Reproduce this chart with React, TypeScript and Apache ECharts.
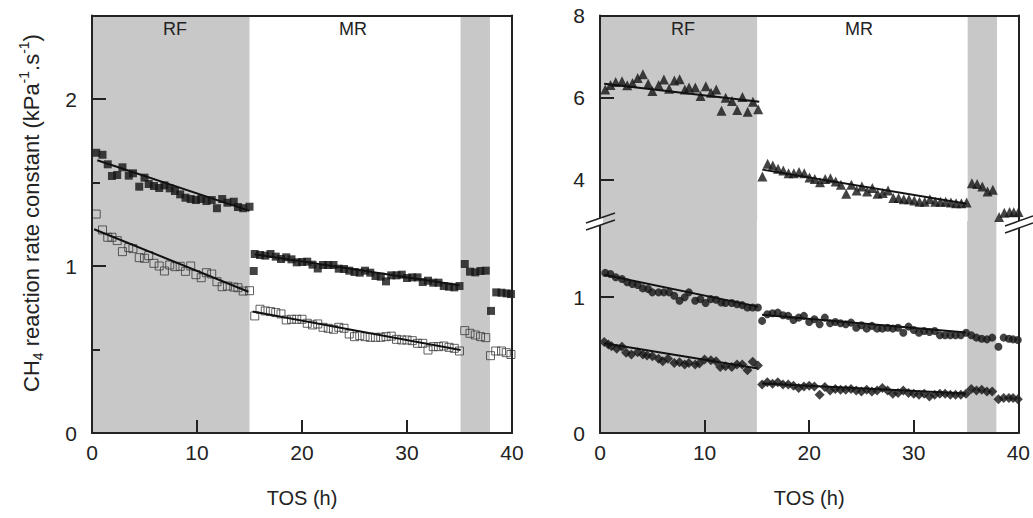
import React, { useEffect, useRef } from "react";
import * as echarts from "echarts";

// ---------- data ----------
const xTickLabels = ["0", "10", "20", "30", "40"];

const rfXLeft = [0.4, 1.0, 1.5, 1.9, 2.4, 2.9, 3.5, 3.9, 4.5, 5.0, 5.4, 5.9, 6.4, 6.9, 7.4, 7.9, 8.4, 8.9, 9.4, 9.9, 10.4, 10.9, 11.4, 11.9, 12.4, 12.9, 13.5, 13.9, 14.4, 15.0];
const rfXRight = [0.5, 1.0, 1.5, 2.1, 2.6, 3.1, 3.6, 4.1, 4.6, 5.0, 5.6, 6.1, 6.6, 7.1, 7.6, 8.1, 8.5, 9.1, 9.6, 10.1, 10.6, 11.1, 11.6, 12.0, 12.6, 13.1, 13.6, 14.1, 14.6, 15.1];
const rfXDiamond = [0.4, 0.8, 1.1, 1.6, 2.1, 2.5, 3.0, 3.6, 4.1, 4.5, 5.0, 5.6, 6.0, 6.5, 7.1, 7.6, 8.1, 8.5, 9.1, 9.5, 10.0, 10.6, 11.1, 11.5, 12.0, 12.6, 13.1, 13.6, 14.1, 14.6, 15.1];
const mrX = [15.5, 16.0, 16.5, 17.0, 17.5, 18.0, 18.5, 19.0, 19.5, 20.0, 20.5, 21.0, 21.5, 22.0, 22.5, 23.0, 23.5, 24.0, 24.5, 25.0, 25.5, 26.0, 26.5, 27.0, 27.5, 28.0, 28.5, 29.0, 29.5, 30.0, 30.5, 31.0, 31.5, 32.0, 32.5, 33.0, 33.5, 34.0, 34.5, 35.0];
const band2X = [35.5, 36.0, 36.5, 37.0, 37.5];
const postX = [38.0, 38.5, 39.0, 39.5, 39.9];
const postXOpen = [37.95, 38.45, 39.0, 39.45, 39.9];
const postXRight = [38.1, 38.6, 39.1, 39.5, 39.95];

// shaded periods (RF)
const bandRanges = [[0, 15], [35.1, 37.9]];

// left panel - filled squares
const lFilledRF = [1.678, 1.666, 1.609, 1.539, 1.545, 1.591, 1.541, 1.555, 1.475, 1.529, 1.491, 1.479, 1.467, 1.483, 1.465, 1.449, 1.429, 1.409, 1.401, 1.395, 1.401, 1.389, 1.395, 1.346, 1.401, 1.379, 1.385, 1.353, 1.346, 1.355];
const lFilledSwitchX = [15.4];
const lFilledSwitch = [0.97];
const lFilledMR = [1.072, 1.066, 1.062, 1.072, 1.056, 1.042, 1.052, 1.040, 1.022, 1.024, 1.026, 1.008, 0.985, 1.006, 1.006, 1.006, 0.984, 0.982, 0.972, 0.964, 0.960, 0.972, 0.960, 0.940, 0.936, 0.908, 0.944, 0.944, 0.948, 0.928, 0.932, 0.932, 0.904, 0.912, 0.900, 0.900, 0.880, 0.876, 0.872, 0.880];
const lFilledBand2 = [1.012, 0.966, 0.962, 0.970, 0.972];
const lFilledPost = [0.731, 0.842, 0.840, 0.836, 0.832];

// left panel - open squares
const lOpenRF = [1.311, 1.216, 1.172, 1.172, 1.152, 1.086, 1.110, 1.104, 1.050, 1.046, 1.062, 1.016, 1.000, 0.970, 1.006, 0.996, 0.998, 0.968, 1.000, 0.948, 0.930, 0.960, 0.952, 0.906, 0.876, 0.880, 0.874, 0.870, 0.850, 0.852];
const lOpenMR = [0.701, 0.741, 0.731, 0.727, 0.721, 0.713, 0.677, 0.681, 0.681, 0.681, 0.657, 0.647, 0.653, 0.633, 0.627, 0.621, 0.633, 0.627, 0.593, 0.577, 0.583, 0.577, 0.573, 0.573, 0.573, 0.577, 0.580, 0.561, 0.557, 0.557, 0.553, 0.537, 0.537, 0.497, 0.517, 0.517, 0.521, 0.513, 0.507, 0.491];
const lOpenBand2 = [0.613, 0.597, 0.587, 0.577, 0.571];
const lOpenPost = [0.463, 0.491, 0.491, 0.481, 0.470];

// right panel - triangles (upper segment)
const rTriRF = [6.20, 6.31, 6.38, 6.40, 6.30, 6.36, 6.48, 6.57, 6.34, 6.16, 6.31, 6.44, 6.22, 6.42, 6.45, 6.20, 6.25, 6.25, 6.04, 6.28, 6.12, 6.20, 5.68, 6.00, 5.92, 5.70, 6.02, 5.66, 5.90, 5.72];
const rTriMR = [4.08, 4.39, 4.35, 4.27, 4.23, 4.16, 4.16, 4.19, 4.16, 4.06, 4.02, 3.94, 4.02, 4.04, 3.96, 3.88, 3.66, 3.88, 3.74, 3.84, 3.72, 3.80, 3.66, 3.68, 3.74, 3.56, 3.56, 3.53, 3.53, 3.50, 3.47, 3.47, 3.53, 3.47, 3.47, 3.47, 3.45, 3.43, 3.43, 3.45];
const rTriBand2 = [3.92, 3.90, 3.84, 3.72, 3.76];
const rTriPost = [3.10, 3.20, 3.22, 3.21, 3.22];

// right panel - circles
const rCirRF = [1.178, 1.170, 1.146, 1.133, 1.109, 1.096, 1.089, 1.064, 1.059, 1.035, 1.035, 1.035, 1.035, 1.010, 0.973, 0.998, 1.035, 0.973, 0.985, 0.956, 0.985, 0.980, 0.960, 0.956, 0.956, 0.948, 0.941, 0.923, 0.923, 0.923];
const rCirMR = [0.825, 0.874, 0.881, 0.886, 0.867, 0.862, 0.832, 0.849, 0.862, 0.817, 0.837, 0.800, 0.849, 0.807, 0.817, 0.807, 0.800, 0.812, 0.775, 0.793, 0.768, 0.788, 0.768, 0.768, 0.775, 0.768, 0.775, 0.738, 0.783, 0.758, 0.738, 0.751, 0.743, 0.751, 0.719, 0.719, 0.719, 0.719, 0.719, 0.738];
const rCirBand2 = [0.719, 0.702, 0.694, 0.689, 0.702];
const rCirPost = [0.635, 0.702, 0.694, 0.689, 0.684];

// right panel - diamonds
const rDiaRF = [0.669, 0.652, 0.639, 0.620, 0.635, 0.590, 0.578, 0.595, 0.578, 0.570, 0.565, 0.546, 0.528, 0.546, 0.516, 0.521, 0.504, 0.516, 0.504, 0.511, 0.541, 0.536, 0.528, 0.486, 0.491, 0.486, 0.504, 0.504, 0.462, 0.524, 0.496];
const rDiaMR = [0.356, 0.373, 0.363, 0.373, 0.356, 0.356, 0.348, 0.331, 0.343, 0.348, 0.343, 0.281, 0.338, 0.313, 0.323, 0.319, 0.319, 0.323, 0.313, 0.306, 0.319, 0.306, 0.313, 0.331, 0.313, 0.289, 0.294, 0.313, 0.294, 0.289, 0.281, 0.289, 0.269, 0.281, 0.289, 0.289, 0.281, 0.281, 0.281, 0.289];
const rDiaBand2 = [0.323, 0.313, 0.319, 0.306, 0.306];
const rDiaPost = [0.249, 0.257, 0.257, 0.257, 0.249];

// fitted trend lines [[x0, y0], [x1, y1]]
const fitLFilledRF = [[0.5, 1.633], [15.0, 1.33]];
const fitLOpenRF = [[0.2, 1.22], [14.9, 0.846]];
const fitLFilledMR = [[15.5, 1.07], [35.0, 0.885]];
const fitLOpenMR = [[15.3, 0.727], [35.1, 0.497]];
const fitRTriRF = [[0.4, 6.34], [15.2, 5.9]];
const fitRTriMR = [[15.5, 4.25], [35.0, 3.42]];
const fitRCirRF = [[0.4, 1.165], [15.1, 0.93]];
const fitRCirMR = [[15.5, 0.87], [35.0, 0.74]];
const fitRDiaRF = [[0.4, 0.66], [15.1, 0.475]];
const fitRDiaMR = [[15.5, 0.365], [35.0, 0.29]];

// ---------- helpers ----------
const zip = (xs: number[], ys: number[]) => xs.map((x, i) => [x, ys[i]]);
const FONT = "'Liberation Sans', Arial, Helvetica, sans-serif";
const INK = "#222222";
const GRAY = "#c8c8c8";

export default function App() {
  const ref = useRef<HTMLDivElement>(null);

  useEffect(() => {
    document.body.style.margin = "0";
    if (!ref.current) return;
    const chart = echarts.init(ref.current, undefined, { renderer: "svg" });

    const axisLine = { show: true, onZero: false, lineStyle: { color: INK, width: 2 } };
    const noTick = { show: false };
    const noLabel = { show: false };
    const xTicks = { show: true, inside: true, length: 13, lineStyle: { color: INK, width: 2 } };
    const xLabel = {
      fontSize: 21, color: INK, fontFamily: FONT, margin: 9,
      formatter: (v: number) => xTickLabels[Math.round(v / 10)] ?? "",
    };
    const yLabelBase = { fontSize: 21, color: INK, fontFamily: FONT, margin: 15 };
    const xName = {
      name: "TOS (h)", nameLocation: "middle", nameGap: 55,
      nameTextStyle: { fontSize: 20, color: INK, fontFamily: FONT },
    };

    const band = {
      silent: true,
      itemStyle: { color: GRAY },
      data: bandRanges.map((r) => [{ xAxis: r[0] }, { xAxis: r[1] }]),
    };

    const scatter = (name: string, xi: number, yi: number, data: number[][], symbol: string, size: any, filled = true, withBand = false): any => ({
      name, type: "scatter", xAxisIndex: xi, yAxisIndex: yi, data, symbol, symbolSize: size, z: 3,
      itemStyle: filled ? { color: "#141414" } : { color: "rgba(0,0,0,0)", borderColor: "#3a3a3a", borderWidth: 1 },
      ...(withBand ? { markArea: band } : {}),
    });
    const fit = (name: string, xi: number, yi: number, data: number[][]): any => ({
      name, type: "line", xAxisIndex: xi, yAxisIndex: yi, data, symbol: "none", z: 4,
      lineStyle: { color: "#111", width: 2 },
    });

    const option: any = {
      animation: false,
      backgroundColor: "#ffffff",
      grid: [
        { left: 92, top: 15.5, width: 420, height: 417.5 },
        { left: 600, top: 15.5, width: 419, height: 205.5 },
        { left: 600, top: 221, width: 419, height: 212 },
      ],
      xAxis: [
        { type: "value", gridIndex: 0, position: "bottom", min: 0, max: 40, interval: 10, axisLine, axisTick: xTicks, axisLabel: xLabel, splitLine: { show: false }, z: 5, ...xName },
        { type: "value", gridIndex: 0, position: "top", min: 0, max: 40, axisLine, axisTick: noTick, axisLabel: noLabel, splitLine: { show: false }, z: 5 },
        { type: "value", gridIndex: 1, position: "top", min: 0, max: 40, axisLine, axisTick: noTick, axisLabel: noLabel, splitLine: { show: false }, z: 5 },
        { type: "value", gridIndex: 2, position: "bottom", min: 0, max: 40, interval: 10, axisLine, axisTick: xTicks, axisLabel: xLabel, splitLine: { show: false }, z: 5, ...xName },
      ],
      yAxis: [
        // 0: left panel, minor ticks + labels
        {
          type: "value", gridIndex: 0, position: "left", min: 0, max: 2.5, interval: 0.5, axisLine,
          axisTick: { show: true, inside: true, length: 8, lineStyle: { color: INK, width: 2 } },
          axisLabel: { ...yLabelBase, formatter: (v: number) => (Math.abs(v - Math.round(v)) < 1e-9 ? String(Math.round(v)) : "") },
          splitLine: { show: false }, z: 5,
        },
        // 1: left panel, major ticks
        {
          type: "value", gridIndex: 0, position: "left", min: 0, max: 2.5, axisLine: { show: false },
          axisTick: { show: true, inside: true, length: 14, customValues: [0, 1, 2], lineStyle: { color: INK, width: 2 } },
          axisLabel: noLabel, splitLine: { show: false }, z: 5,
        },
        // 2: left panel, right border
        { type: "value", gridIndex: 0, position: "right", min: 0, max: 2.5, axisLine, axisTick: noTick, axisLabel: noLabel, splitLine: { show: false }, z: 5 },
        // 3: right panel upper segment
        {
          type: "value", gridIndex: 1, position: "left", min: 3, max: 8, axisLine,
          axisTick: { show: true, inside: true, length: 14, customValues: [4, 6, 8], lineStyle: { color: INK, width: 2 } },
          axisLabel: { ...yLabelBase, customValues: [4, 6, 8] },
          splitLine: { show: false }, z: 5,
        },
        // 4: upper right border
        { type: "value", gridIndex: 1, position: "right", min: 3, max: 8, axisLine, axisTick: noTick, axisLabel: noLabel, splitLine: { show: false }, z: 5 },
        // 5: right panel lower segment
        {
          type: "value", gridIndex: 2, position: "left", min: 0, max: 1.56, axisLine,
          axisTick: { show: true, inside: true, length: 14, customValues: [0, 1], lineStyle: { color: INK, width: 2 } },
          axisLabel: { ...yLabelBase, customValues: [0, 1] },
          splitLine: { show: false }, z: 5,
        },
        // 6: lower right border
        { type: "value", gridIndex: 2, position: "right", min: 0, max: 1.56, axisLine, axisTick: noTick, axisLabel: noLabel, splitLine: { show: false }, z: 5 },
      ],
      series: [
        // left panel
        scatter("filled squares", 0, 0, [
          ...zip(rfXLeft, lFilledRF), ...zip(lFilledSwitchX, lFilledSwitch), ...zip(mrX, lFilledMR),
          ...zip(band2X, lFilledBand2), ...zip(postX, lFilledPost),
        ], "rect", 8, true, true),
        scatter("open squares", 0, 0, [
          ...zip(rfXLeft, lOpenRF), ...zip(mrX, lOpenMR), ...zip(band2X, lOpenBand2), ...zip(postXOpen, lOpenPost),
        ], "rect", 8, false),
        fit("fit filled RF", 0, 0, fitLFilledRF),
        fit("fit open RF", 0, 0, fitLOpenRF),
        fit("fit filled MR", 0, 0, fitLFilledMR),
        fit("fit open MR", 0, 0, fitLOpenMR),
        // right panel upper
        scatter("triangles", 2, 3, [
          ...zip(rfXRight, rTriRF), ...zip(mrX, rTriMR), ...zip(band2X, rTriBand2), ...zip(postXRight, rTriPost),
        ], "triangle", 10, true, true),
        fit("fit tri RF", 2, 3, fitRTriRF),
        fit("fit tri MR", 2, 3, fitRTriMR),
        // right panel lower
        scatter("circles", 3, 5, [
          ...zip(rfXRight, rCirRF), ...zip(mrX, rCirMR), ...zip(band2X, rCirBand2), ...zip(postXRight, rCirPost),
        ], "circle", 8, true, true),
        scatter("diamonds", 3, 5, [
          ...zip(rfXDiamond, rDiaRF), ...zip(mrX, rDiaMR), ...zip(band2X, rDiaBand2), ...zip(postXRight, rDiaPost),
        ], "diamond", [10, 10], true),
        fit("fit cir RF", 3, 5, fitRCirRF),
        fit("fit cir MR", 3, 5, fitRCirMR),
        fit("fit dia RF", 3, 5, fitRDiaRF),
        fit("fit dia MR", 3, 5, fitRDiaMR),
      ],
      graphic: [
        // y axis title
        {
          type: "text", x: 31, y: 213, rotation: Math.PI / 2, z: 100,
          style: {
            text: "CH{sub|4} reaction rate constant (kPa{sup|-1}.s{sup|-1})",
            fontSize: 22, fontFamily: FONT, fill: INK, align: "center", verticalAlign: "middle", lineHeight: 28,
            rich: {
              sub: { fontSize: 14, fontFamily: FONT, fill: INK, verticalAlign: "bottom", lineHeight: 10 },
              sup: { fontSize: 14, fontFamily: FONT, fill: INK, verticalAlign: "top", lineHeight: 13 },
            },
          },
        },
        // period labels
        { type: "text", x: 175, y: 29, z: 100, style: { text: "RF", fontSize: 18, fontFamily: FONT, fill: INK, align: "center", verticalAlign: "middle" } },
        { type: "text", x: 353, y: 29, z: 100, style: { text: "MR", fontSize: 18, fontFamily: FONT, fill: INK, align: "center", verticalAlign: "middle" } },
        { type: "text", x: 683, y: 29, z: 100, style: { text: "RF", fontSize: 18, fontFamily: FONT, fill: INK, align: "center", verticalAlign: "middle" } },
        { type: "text", x: 859, y: 29, z: 100, style: { text: "MR", fontSize: 18, fontFamily: FONT, fill: INK, align: "center", verticalAlign: "middle" } },
        // axis-break marks (left)
        { type: "polygon", z: 100, shape: { points: [[597, 219.2], [603, 217.1], [603, 224.1], [597, 226.2]] }, style: { fill: "#ffffff" } },
        { type: "line", z: 101, shape: { x1: 586, y1: 223, x2: 615, y2: 213 }, style: { stroke: INK, lineWidth: 1.5 } },
        { type: "line", z: 101, shape: { x1: 586, y1: 230, x2: 615, y2: 220 }, style: { stroke: INK, lineWidth: 1.5 } },
        // axis-break marks (right)
        { type: "polygon", z: 100, shape: { points: [[1016, 222], [1022, 219.9], [1022, 226.9], [1016, 229]] }, style: { fill: "#ffffff" } },
        { type: "line", z: 101, shape: { x1: 1005, y1: 226, x2: 1033, y2: 216 }, style: { stroke: INK, lineWidth: 1.5 } },
        { type: "line", z: 101, shape: { x1: 1005, y1: 233, x2: 1033, y2: 223 }, style: { stroke: INK, lineWidth: 1.5 } },
      ],
    };

    chart.setOption(option);
    return () => chart.dispose();
  }, []);

  return <div ref={ref} style={{ width: 1033, height: 518 }} />;
}
